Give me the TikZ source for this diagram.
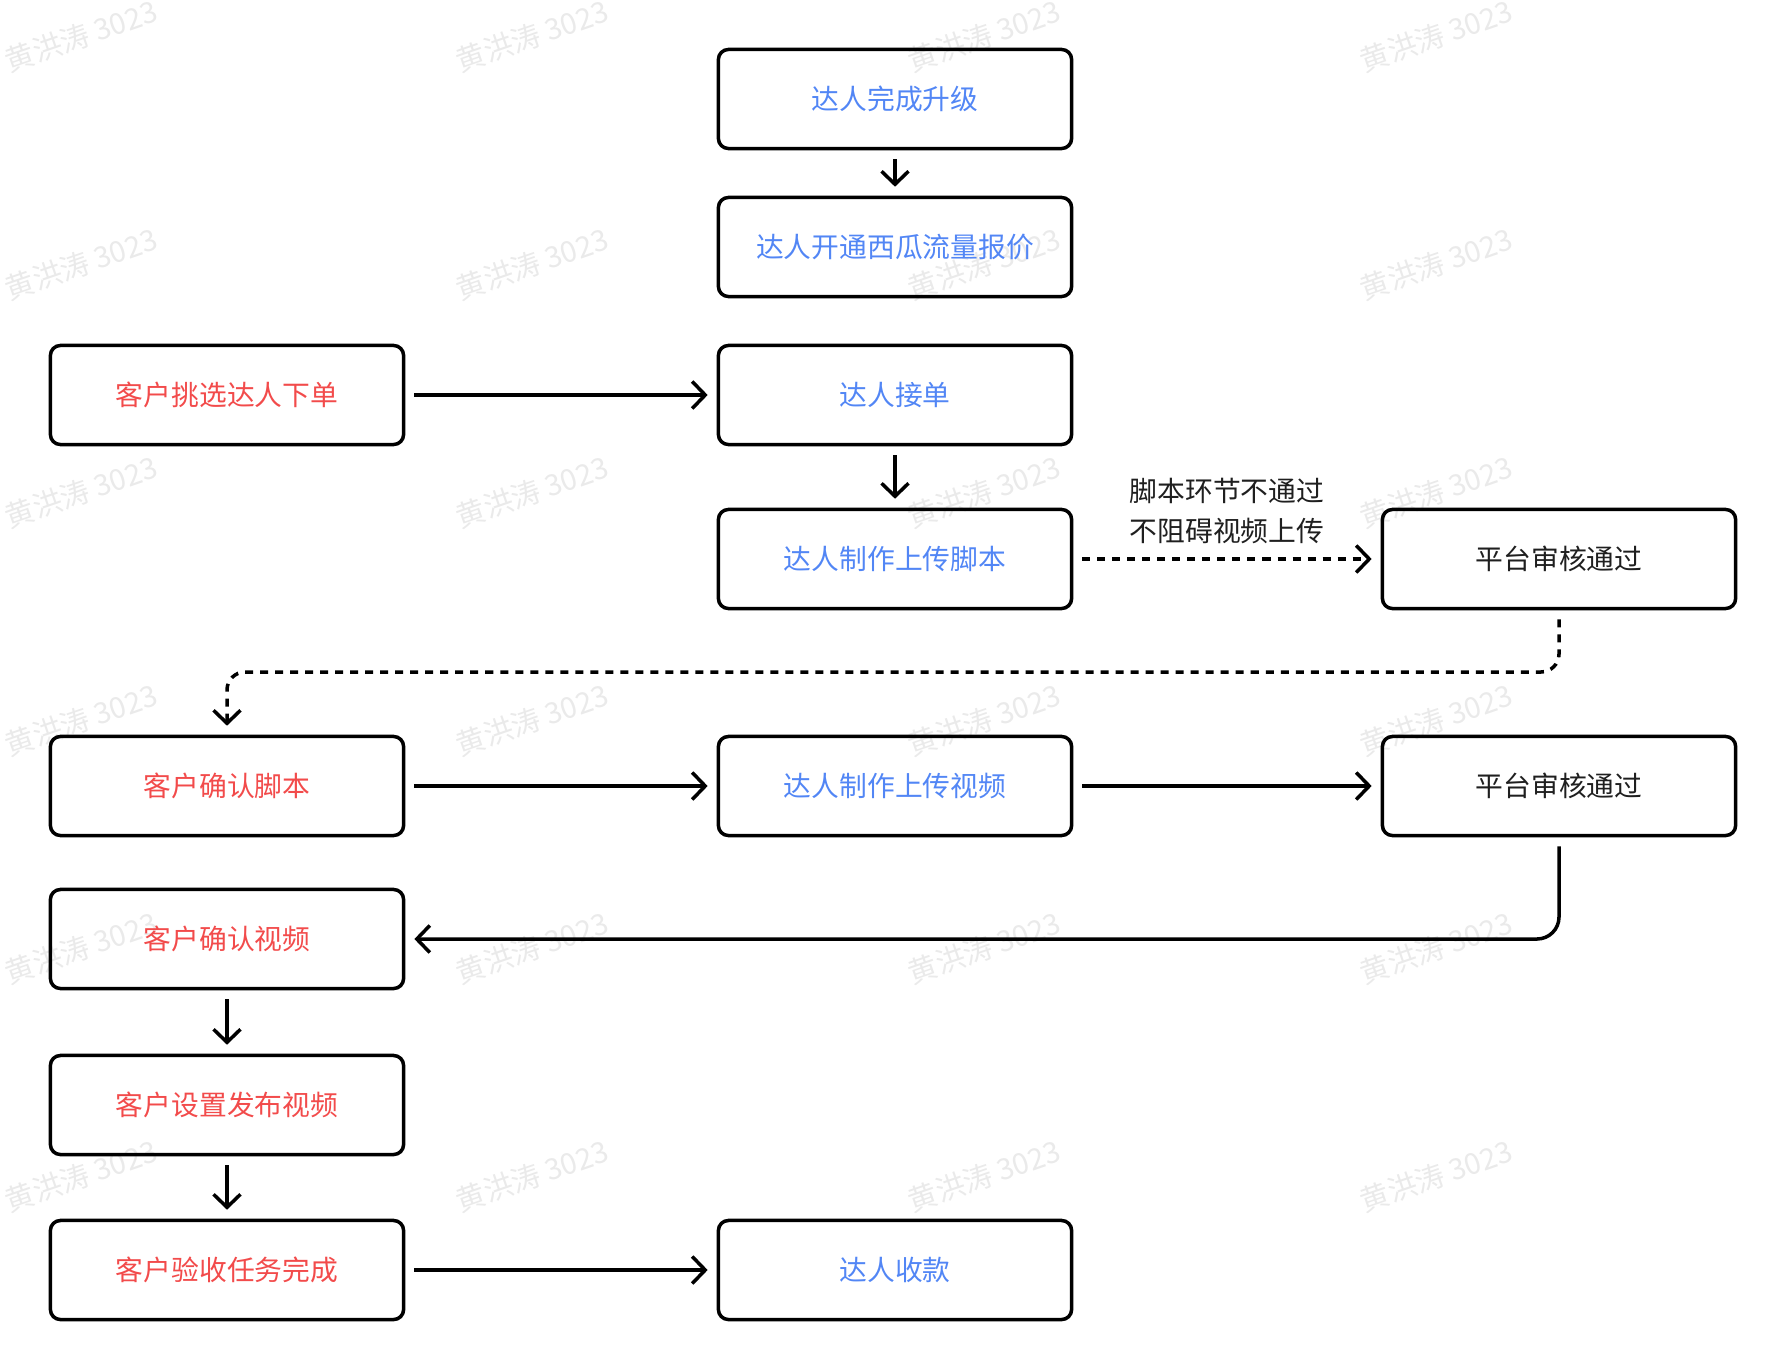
\documentclass[tikz,border=0pt]{standalone}
\usepackage{fontspec}
\usepackage{tikz}
\usepackage{xcolor}
\usetikzlibrary{arrows.meta}
\newfontfamily\cjk{Noto Sans CJK SC}
\definecolor{talentblue}{HTML}{5286F5}
\definecolor{clientred}{HTML}{F24B4B}
\definecolor{platformblack}{HTML}{1F1F1F}
\definecolor{markgray}{HTML}{EAEAEA}

\begin{document}
\begin{tikzpicture}[x=0.01cm, y=-0.01cm,
	stepbox/.style={draw, line width=0.035cm, rounded corners=0.1cm, minimum width=3.53cm, minimum height=0.99cm, font=\cjk\fontsize{7.9pt}{11pt}\selectfont},
	talent/.style={stepbox, text=talentblue},
	client/.style={stepbox, text=clientred},
	platform/.style={stepbox, text=platformblack},
	flow/.style={line width=0.035cm, -{Straight Barb[length=0.13cm, width=0.27cm]}, shorten <=0.09cm, shorten >=0.09cm},
	dashline/.style={dash pattern=on 0.08cm off 0.07cm},
	note/.style={align=center, font=\cjk\fontsize{7.9pt}{11.4pt}\selectfont, text=platformblack},
	wmark/.style={rotate=19, text=markgray, font=\cjk\fontsize{8.3pt}{9pt}\selectfont}]
	\useasboundingbox (0,0) rectangle (1786,1370);

	% Watermark
	\node[wmark] (wm11) at (81,36) {黄洪涛 3023};
	\node[wmark] (wm12) at (532,36) {黄洪涛 3023};
	\node[wmark] (wm13) at (984,36) {黄洪涛 3023};
	\node[wmark] (wm14) at (1436,36) {黄洪涛 3023};
	\node[wmark] (wm21) at (81,264) {黄洪涛 3023};
	\node[wmark] (wm22) at (532,264) {黄洪涛 3023};
	\node[wmark] (wm23) at (984,264) {黄洪涛 3023};
	\node[wmark] (wm24) at (1436,264) {黄洪涛 3023};
	\node[wmark] (wm31) at (81,492) {黄洪涛 3023};
	\node[wmark] (wm32) at (532,492) {黄洪涛 3023};
	\node[wmark] (wm33) at (984,492) {黄洪涛 3023};
	\node[wmark] (wm34) at (1436,492) {黄洪涛 3023};
	\node[wmark] (wm41) at (81,720) {黄洪涛 3023};
	\node[wmark] (wm42) at (532,720) {黄洪涛 3023};
	\node[wmark] (wm43) at (984,720) {黄洪涛 3023};
	\node[wmark] (wm44) at (1436,720) {黄洪涛 3023};
	\node[wmark] (wm51) at (81,948) {黄洪涛 3023};
	\node[wmark] (wm52) at (532,948) {黄洪涛 3023};
	\node[wmark] (wm53) at (984,948) {黄洪涛 3023};
	\node[wmark] (wm54) at (1436,948) {黄洪涛 3023};
	\node[wmark] (wm61) at (81,1176) {黄洪涛 3023};
	\node[wmark] (wm62) at (532,1176) {黄洪涛 3023};
	\node[wmark] (wm63) at (984,1176) {黄洪涛 3023};
	\node[wmark] (wm64) at (1436,1176) {黄洪涛 3023};

	% Talent sign-up
	\node[talent] (upgrade) at (895,99) {达人完成升级};
	\node[talent] (quote) at (895,247) {达人开通西瓜流量报价};

	% Order and script
	\node[client] (order) at (227,395) {客户挑选达人下单};
	\node[talent] (accept) at (895,395) {达人接单};
	\node[talent] (script) at (895,559) {达人制作上传脚本};
	\node[platform] (review1) at (1559,559) {平台审核通过};

	% Video
	\node[client] (confirmscript) at (227,786) {客户确认脚本};
	\node[talent] (video) at (895,786) {达人制作上传视频};
	\node[platform] (review2) at (1559,786) {平台审核通过};
	\node[client] (confirmvideo) at (227,939) {客户确认视频};

	% Publish and payment
	\node[client] (publish) at (227,1105) {客户设置发布视频};
	\node[client] (finish) at (227,1270) {客户验收任务完成};
	\node[talent] (payment) at (895,1270) {达人收款};

	% Connectors
	\coordinate (dashlane) at (0,672);
	\draw[flow] (upgrade) -- (quote);
	\draw[flow] (order) -- (accept);
	\draw[flow] (accept) -- (script);
	\draw[flow, dashline] (script) -- node[note, yshift=0.48cm] (scriptnote) {脚本环节不通过\\不阻碍视频上传} (review1);
	\draw[flow, dashline, rounded corners=0.18cm] (review1.south) |- (dashlane -| confirmscript) -- (confirmscript.north);
	\draw[flow] (confirmscript) -- (video);
	\draw[flow] (video) -- (review2);
	\draw[flow, rounded corners=0.22cm] (review2.south) |- (confirmvideo.east);
	\draw[flow] (confirmvideo) -- (publish);
	\draw[flow] (publish) -- (finish);
	\draw[flow] (finish) -- (payment);
\end{tikzpicture}
\end{document}
